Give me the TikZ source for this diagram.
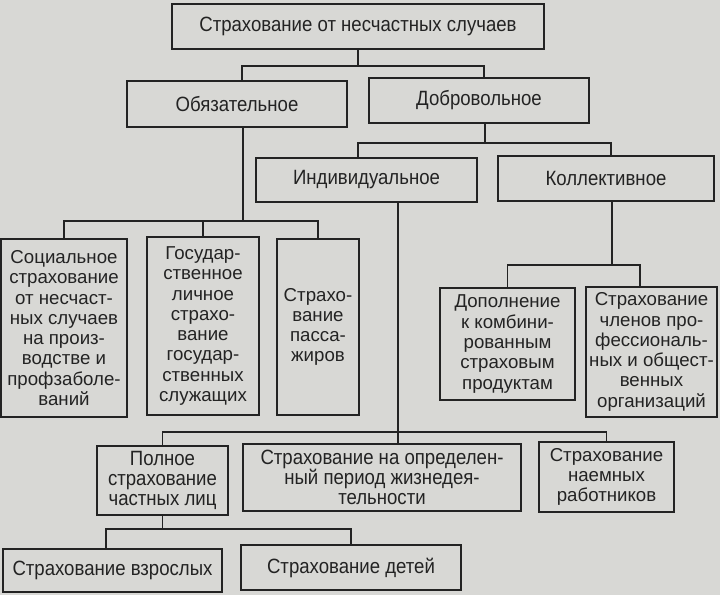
\documentclass[tikz,border=0pt]{standalone}
\usepackage{fontspec}
\setmainfont{Liberation Sans}
\newfontfamily\narrowfont[FakeStretch=0.9]{Liberation Sans}
\definecolor{paper}{RGB}{216,216,213}
\definecolor{ink}{RGB}{35,35,35}

\tikzset{
  box/.style 2 args={draw=ink, text=ink, line width=1.15pt, align=center, inner sep=0pt,
     minimum width=#1*0.75pt, minimum height=#2*0.75pt,
     font=\fontsize{14}{15.2}\selectfont},
  nbox/.style 2 args={box={#1}{#2}, font=\narrowfont\fontsize{15.5}{15}\selectfont},
  link/.style={draw=ink, line width=1.15pt}
}

\begin{document}
\begin{tikzpicture}[x=0.75pt, y=-0.75pt]
  \fill[paper] (0,0) rectangle (720,595);
  \useasboundingbox (0,0) rectangle (720,595);

  % upper levels
  \node[nbox={372}{45}] (top) at (358,26.5) {Страхование от несчастных случаев};
  \node[nbox={220}{46}] (obz) at (237,104) {Обязательное};
  \node[nbox={220}{45}] (dobr) at (479,100.5) {Добровольное};
  \node[nbox={221}{44}] (ind) at (366.5,180) {Индивидуальное};
  \node[nbox={216}{45}] (koll) at (606,178.5) {Коллективное};

  % obligatory kinds
  \node[box={126}{178}] (soc) at (64,328) {Социальное\\страхование\\от несчаст-\\ных случаев\\на произ-\\водстве и\\профзаболе-\\ваний};
  \node[box={112}{178}] (gos) at (203,326) {Государ-\\ственное\\личное\\страхо-\\вание\\государ-\\ственных\\служащих};
  \node[box={82}{176}] (pass) at (318,327) {Страхо-\\вание\\пасса-\\жиров};

  % collective kinds
  \node[box={135}{112}] (dop) at (507.5,344) {Дополнение\\к комбини-\\рованным\\страховым\\продуктам};
  \node[box={131}{130}] (chl) at (651.5,352) {Страхование\\членов про-\\фессиональ-\\ных и общест-\\венных\\организаций};

  % individual kinds
  \node[nbox={131}{69}] (poln) at (162.5,480.5) {Полное\\страхование\\частных лиц};
  \node[nbox={278}{67}] (opr) at (382,477.5) {Страхование на определен-\\ный период жизнедея-\\тельности};
  \node[box={135}{70}] (naem) at (606.5,477) {Страхование\\наемных\\работников};
  \node[nbox={219}{43}] (vzr) at (112.5,570.5) {Страхование взрослых};
  \node[nbox={220}{45}] (det) at (351,567.5) {Страхование детей};

  % connectors
  \draw[link] (top.south) -- ++(0,16) coordinate (b1);
  \draw[link] ([xshift=3.75pt]obz.north) |- (b1) -| ([xshift=3.75pt]dobr.north);
  \draw[link] ([xshift=4.5pt]dobr.south) -- ++(0,19) coordinate (b2);
  \draw[link] ([xshift=-6.4pt]ind.north) |- (b2) -| ([xshift=3.75pt]koll.north);
  \draw[link] ([xshift=4.5pt]obz.south) -- ++(0,93) coordinate (b3);
  \draw[link] (soc.north) |- (b3) -| (pass.north);
  \draw[link] (gos.north) -- (gos.north |- b3);
  \draw[link] ([xshift=4.5pt]koll.south) -- ++(0,63) coordinate (b4);
  \draw[link] (dop.north) |- (b4) -| ([xshift=-8.6pt]chl.north);
  \draw[link] ([xshift=23.6pt]ind.south) coordinate (t) -- (t |- opr.north);
  \path (t) ++(0,229) coordinate (b5);
  \draw[link] (poln.north) |- (b5) -| (naem.north);
  \draw[link] (poln.south) -- ++(0,13) coordinate (b6);
  \draw[link] ([xshift=-5pt]vzr.north) |- (b6) -| (det.north);
\end{tikzpicture}
\end{document}
